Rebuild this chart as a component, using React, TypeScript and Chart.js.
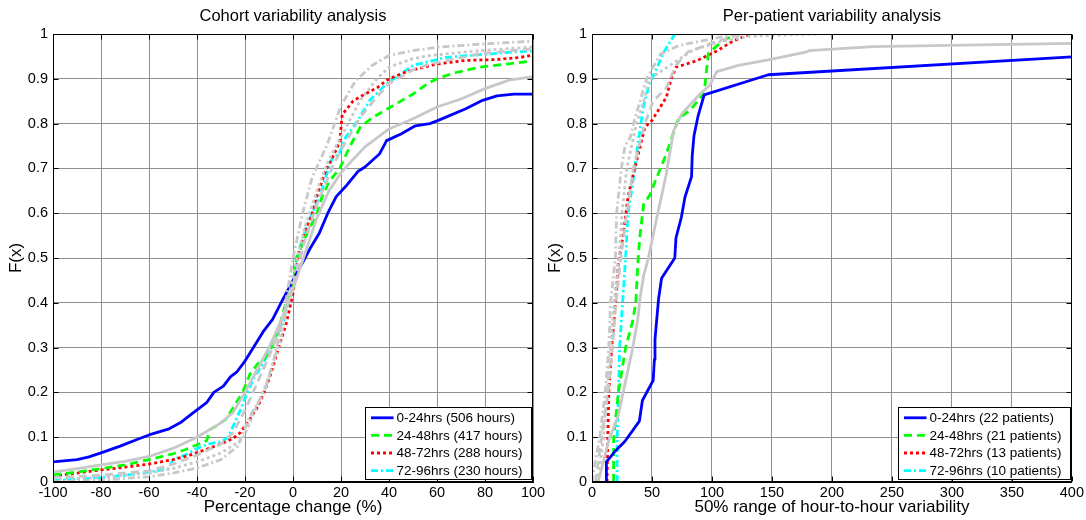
import React, { useEffect, useRef } from 'react';
import { Chart, registerables } from 'chart.js';
Chart.register(...registerables);

const FONT = "'Liberation Sans', Arial, Helvetica, sans-serif";

// ---------- Left panel: Cohort variability analysis (percentage change) ----------
const cohortXTicks = { min: -100, max: 100, step: 20 };

const cohort0_24X = [-100, -90, -85, -80, -72, -65, -60, -52, -47, -41.5, -36, -33, -29, -26, -23.5, -20, -16.5, -12.5, -8.5, -5, -2, 0, 3.5, 7, 11, 14.5, 18, 22, 27, 30, 36, 39, 45, 51, 57, 60, 64, 72, 79, 85, 92, 100];
const cohort0_24Y = [0.045, 0.05, 0.056, 0.065, 0.08, 0.095, 0.105, 0.118, 0.132, 0.155, 0.177, 0.2, 0.214, 0.235, 0.245, 0.27, 0.3, 0.335, 0.363, 0.4, 0.43, 0.45, 0.485, 0.52, 0.556, 0.6, 0.637, 0.66, 0.693, 0.703, 0.732, 0.762, 0.777, 0.795, 0.8, 0.806, 0.815, 0.833, 0.852, 0.862, 0.866, 0.866];

const cohort24_48X = [-100, -90, -80, -70, -60, -50, -45, -40, -36, -34.5, -32, -28, -25, -21, -18, -15, -12, -9, -6, -3, 0, 1.5, 5, 10, 12, 15, 19.5, 23.5, 28, 33, 40, 50, 56, 60, 67, 78, 89, 100];
const cohort24_48Y = [0.016, 0.022, 0.03, 0.038, 0.05, 0.063, 0.072, 0.083, 0.092, 0.118, 0.125, 0.14, 0.165, 0.2, 0.24, 0.262, 0.275, 0.3, 0.34, 0.4, 0.44, 0.5, 0.545, 0.6, 0.635, 0.67, 0.7, 0.747, 0.792, 0.813, 0.835, 0.866, 0.889, 0.9, 0.913, 0.926, 0.933, 0.94];

const cohort48_72X = [-100, -90, -80, -70, -60, -50, -43, -35, -30, -25, -22, -18, -15, -12, -9, -6, -3, 0, 2, 5, 8, 10, 14, 17, 19.5, 20.5, 25, 28, 35, 40, 47, 55, 60, 72, 85, 95, 100];
const cohort48_72Y = [0.013, 0.02, 0.027, 0.033, 0.04, 0.05, 0.06, 0.075, 0.085, 0.097, 0.11, 0.14, 0.165, 0.2, 0.245, 0.3, 0.35, 0.42, 0.5, 0.56, 0.6, 0.64, 0.7, 0.73, 0.76, 0.82, 0.85, 0.86, 0.88, 0.9, 0.915, 0.927, 0.933, 0.941, 0.943, 0.948, 0.953];

const cohort72_96X = [-100, -90, -80, -70, -60, -52, -50, -45, -40, -35, -30, -27, -22, -19, -16, -13, -10, -7, -4, -2, 0, 1.5, 5, 8, 12, 14.5, 16.5, 19, 22, 27, 32, 39, 42, 50, 64, 78, 92, 100];
const cohort72_96Y = [0.003, 0.006, 0.01, 0.015, 0.022, 0.03, 0.05, 0.06, 0.075, 0.085, 0.09, 0.1, 0.16, 0.2, 0.235, 0.26, 0.29, 0.32, 0.36, 0.4, 0.44, 0.5, 0.56, 0.6, 0.65, 0.695, 0.725, 0.73, 0.77, 0.807, 0.852, 0.889, 0.9, 0.93, 0.948, 0.954, 0.96, 0.962];

const cohortRefSolidX = [-100, -90, -80, -70, -60, -50, -40, -30, -25, -20, -15, -10, -5, 0, 5, 10, 15, 20, 25, 30, 40, 50, 60, 70, 80, 90, 100];
const cohortRefSolidY = [0.022, 0.03, 0.038, 0.046, 0.057, 0.075, 0.1, 0.132, 0.155, 0.2, 0.25, 0.3, 0.36, 0.43, 0.51, 0.59, 0.65, 0.69, 0.72, 0.748, 0.788, 0.811, 0.837, 0.855, 0.878, 0.897, 0.905];

const cohortRefDashX = [-100, -80, -60, -50, -40, -30, -25, -20, -15, -10, -5, 0, 5, 10, 17, 22, 28, 35, 40, 50, 57, 78, 100];
const cohortRefDashY = [0.01, 0.015, 0.025, 0.04, 0.06, 0.085, 0.11, 0.16, 0.22, 0.28, 0.35, 0.44, 0.54, 0.62, 0.71, 0.76, 0.814, 0.86, 0.889, 0.92, 0.933, 0.956, 0.967];

const cohortRefDotX = [-100, -80, -60, -50, -40, -30, -21, -15, -10, -5, 0, 5, 11, 15, 20, 28, 35, 40, 50, 57, 78, 100];
const cohortRefDotY = [0.005, 0.01, 0.02, 0.03, 0.045, 0.065, 0.095, 0.17, 0.235, 0.32, 0.46, 0.57, 0.666, 0.72, 0.77, 0.852, 0.9, 0.926, 0.945, 0.952, 0.963, 0.971];

const cohortRefDashDotX = [-100, -80, -60, -50, -40, -30, -23, -18, -12, -8, -4, 0, 4, 8, 14, 20, 26, 33, 40, 50, 61, 80, 100];
const cohortRefDashDotY = [0, 0.004, 0.012, 0.02, 0.031, 0.05, 0.08, 0.147, 0.2, 0.273, 0.37, 0.5, 0.6, 0.68, 0.75, 0.84, 0.895, 0.93, 0.952, 0.963, 0.971, 0.978, 0.984];

const cohortLabels = ['0-24hrs (506 hours)', '24-48hrs (417 hours)', '48-72hrs (288 hours)', '72-96hrs (230 hours)'];

// ---------- Right panel: Per-patient variability analysis ----------
const patientXTicks = { min: 0, max: 400, step: 50 };

const patient0_24X = [12, 12, 19, 27.5, 39.5, 42, 51, 52, 52.5, 54, 55.5, 58, 69, 70, 74.5, 77.5, 83, 83.5, 85, 88.5, 93.5, 147, 400];
const patient0_24Y = [0, 0.045, 0.068, 0.091, 0.136, 0.182, 0.227, 0.273, 0.318, 0.364, 0.409, 0.455, 0.5, 0.545, 0.591, 0.636, 0.682, 0.727, 0.773, 0.818, 0.864, 0.909, 0.949];

const patient24_48X = [18, 18, 20, 22, 28, 34, 36.5, 38.5, 40, 41.5, 43, 48, 54, 62, 72, 82, 91, 94, 97, 109, 120];
const patient24_48Y = [0, 0.095, 0.15, 0.2, 0.3, 0.36, 0.4, 0.5, 0.55, 0.585, 0.62, 0.64, 0.68, 0.733, 0.811, 0.83, 0.86, 0.882, 0.957, 0.985, 1.0];

const patient48_72X = [12.5, 13, 14, 16.5, 18, 19.5, 22, 26, 30, 34.5, 40, 44, 50, 62, 66, 70, 87, 104, 118, 132];
const patient48_72Y = [0, 0.077, 0.2, 0.3, 0.35, 0.4, 0.49, 0.55, 0.636, 0.688, 0.747, 0.792, 0.807, 0.859, 0.9, 0.926, 0.94, 0.962, 0.985, 1.0];

const patient72_96X = [21, 21, 22, 23, 25.5, 28, 30, 33, 38, 43, 48, 50, 60, 69];
const patient72_96Y = [0, 0.1, 0.2, 0.3, 0.4, 0.5, 0.6, 0.65, 0.75, 0.84, 0.89, 0.9, 0.96, 1.0];

const patientRefSolidX = [5, 10, 14, 18, 22, 26, 30, 34, 38, 40, 43, 47, 54, 62, 68, 75, 90, 98, 104, 122, 147, 179, 181, 234, 400];
const patientRefSolidY = [0, 0.05, 0.094, 0.12, 0.15, 0.2, 0.25, 0.3, 0.36, 0.41, 0.46, 0.5, 0.59, 0.688, 0.784, 0.822, 0.866, 0.885, 0.916, 0.93, 0.942, 0.96, 0.963, 0.972, 0.979];

const patientRefDashX = [3, 8, 13.5, 17, 20, 24, 29, 34.5, 44, 51, 62, 70, 80, 100, 125];
const patientRefDashY = [0, 0.1, 0.2, 0.3, 0.4, 0.5, 0.6, 0.7, 0.8, 0.85, 0.88, 0.93, 0.96, 0.98, 1.0];

const patientRefDotX = [5, 9.5, 12.5, 15.5, 18.5, 22.5, 25, 29, 37, 43, 48, 65, 84, 107, 131, 187];
const patientRefDotY = [0, 0.1, 0.2, 0.3, 0.4, 0.5, 0.6, 0.7, 0.8, 0.85, 0.9, 0.93, 0.964, 0.983, 0.995, 1.0];

const patientRefDashDotX = [0, 3, 6.5, 11, 14, 15.5, 19.5, 20.5, 24.5, 27.5, 32, 34.5, 40, 45.5, 57, 73, 96, 120];
const patientRefDashDotY = [0, 0.05, 0.1, 0.2, 0.3, 0.4, 0.5, 0.6, 0.7, 0.75, 0.77, 0.8, 0.85, 0.9, 0.955, 0.975, 0.987, 1.0];

const patientLabels = ['0-24hrs (22 patients)', '24-48hrs (21 patients)', '48-72hrs (13 patients)', '72-96hrs (10 patients)'];

// ---------- styles ----------
const DASH = {
  solid: [] as number[],
  dashed: [8, 5],
  dotted: [3, 3],
  dashDot: [7, 3, 2, 3],
};
const COLORS = ['#0000ff', '#00ff00', '#ff0000', '#00ffff'];
const GRAY = '#c8c8c8';
const GRID = '#8f8f8f';
const LINE_W = 2.8;

const zip = (xs: number[], ys: number[]) => xs.map((x, i) => ({ x, y: ys[i] }));

function makeDatasets(colored: [number[], number[]][], gray: [number[], number[]][], labels: string[]) {
  const styles = [DASH.solid, DASH.dashed, DASH.dotted, DASH.dashDot];
  const ds: any[] = [];
  const common = { borderWidth: LINE_W, borderCapStyle: 'butt', borderJoinStyle: 'round', pointRadius: 0, fill: false, tension: 0 };
  colored.forEach(([xs, ys], i) => {
    ds.push({ ...common, label: labels[i], data: zip(xs, ys), borderColor: COLORS[i], borderDash: styles[i], order: 1 });
  });
  gray.forEach(([xs, ys], i) => {
    ds.push({ ...common, label: '', data: zip(xs, ys), borderColor: GRAY, borderDash: styles[i], order: 0 });
  });
  return ds;
}

const framePlugin = {
  id: 'matlabFrame',
  afterDatasetsDraw(chart: any) {
    const { ctx, chartArea: a, scales } = chart;
    const l = Math.round(a.left) + 0.5;
    const r = Math.round(a.right) - 0.5;
    const t = Math.round(a.top) + 0.5;
    const b = Math.round(a.bottom) - 0.5;
    ctx.save();
    ctx.setLineDash([]);
    ctx.strokeStyle = '#000';
    ctx.lineWidth = 1;
    ctx.strokeRect(l, t, r - l, b - t);
    const tl = 5;
    ctx.beginPath();
    scales.x.ticks.forEach((tk: any) => {
      const px = Math.round(scales.x.getPixelForValue(tk.value)) + 0.5;
      ctx.moveTo(px, b); ctx.lineTo(px, b - tl);
      ctx.moveTo(px, t); ctx.lineTo(px, t + tl);
    });
    scales.y.ticks.forEach((tk: any) => {
      const py = Math.round(scales.y.getPixelForValue(tk.value)) + 0.5;
      ctx.moveTo(l, py); ctx.lineTo(l + tl, py);
      ctx.moveTo(r, py); ctx.lineTo(r - tl, py);
    });
    ctx.stroke();
    ctx.restore();
  },
};

const legendPlugin = {
  id: 'matlabLegend',
  afterDraw(chart: any) {
    const items = chart.data.datasets.filter((d: any) => d.label);
    const { ctx, chartArea: a } = chart;
    ctx.save();
    ctx.font = `13.5px ${FONT}`;
    const textW = Math.max(...items.map((d: any) => ctx.measureText(d.label).width));
    const padL = 5.5, sample = 22.5, gap = 3, padR = 9, rowH = 17.6, padT = 10.3, padB = 9;
    const w = padL + sample + gap + textW + padR;
    const h = padT + rowH * (items.length - 1) + padB;
    const right = Math.round(a.right - 2) + 0.5;
    const bottom = Math.round(a.bottom - 3) + 0.5;
    const left = Math.round(right - w) + 0.5;
    const top = Math.round(bottom - h) + 0.5;
    ctx.fillStyle = '#fff';
    ctx.fillRect(left, top, right - left, bottom - top);
    ctx.strokeStyle = '#000';
    ctx.lineWidth = 1;
    ctx.setLineDash([]);
    ctx.strokeRect(left, top, right - left, bottom - top);
    items.forEach((d: any, i: number) => {
      const cy = top + padT + i * rowH;
      ctx.save();
      ctx.setLineDash(d.borderDash || []);
      ctx.lineCap = 'butt';
      ctx.lineWidth = d.borderWidth;
      ctx.strokeStyle = d.borderColor;
      ctx.beginPath();
      ctx.moveTo(left + padL, cy);
      ctx.lineTo(left + padL + sample, cy);
      ctx.stroke();
      ctx.restore();
      ctx.fillStyle = '#000';
      ctx.textBaseline = 'middle';
      ctx.textAlign = 'left';
      ctx.fillText(d.label, left + padL + sample + gap, cy + 0.5);
    });
    ctx.restore();
  },
};

const fmtY = (v: number | string) => String(Number(Number(v).toFixed(2)));

function makeConfig(title: string, xTitle: string, xr: { min: number; max: number; step: number }, datasets: any[], padRight: number): any {
  return {
    type: 'line',
    data: { datasets },
    plugins: [framePlugin, legendPlugin],
    options: {
      responsive: false,
      animation: false,
      devicePixelRatio: 1,
      events: [],
      layout: { padding: { left: 0, right: padRight, top: 0, bottom: 0 } },
      plugins: {
        legend: { display: false },
        tooltip: { enabled: false },
        title: {
          display: true,
          text: title,
          fullSize: false,
          color: '#000',
          font: { family: FONT, size: 16.5, weight: 'normal', lineHeight: 1.2 },
          padding: { top: 6.1, bottom: 8.1 },
        },
      },
      scales: {
        x: {
          type: 'linear',
          min: xr.min,
          max: xr.max,
          ticks: { stepSize: xr.step, autoSkip: false, maxRotation: 0, padding: 2, color: '#000', font: { family: FONT, size: 14.5 } },
          grid: { color: GRID, lineWidth: 1, drawTicks: false },
          border: { display: true, color: '#000', width: 1 },
          title: { display: true, text: xTitle, color: '#000', font: { family: FONT, size: 17, lineHeight: 1.2 }, padding: { top: 0, bottom: 2 } },
          afterFit: (s: any) => { s.height = 38; },
        },
        y: {
          type: 'linear',
          min: 0,
          max: 1,
          ticks: { stepSize: 0.1, autoSkip: false, padding: 5, color: '#000', font: { family: FONT, size: 14.5 }, callback: fmtY },
          grid: { color: GRID, lineWidth: 1, drawTicks: false },
          border: { display: true, color: '#000', width: 1 },
          title: { display: true, text: 'F(x)', color: '#000', font: { family: FONT, size: 17, lineHeight: 1.2 }, padding: { top: 6, bottom: 0 } },
          afterFit: (s: any) => { s.width = 53; },
        },
      },
    },
  };
}

export default function App() {
  const leftRef = useRef<HTMLCanvasElement>(null);
  const rightRef = useRef<HTMLCanvasElement>(null);

  useEffect(() => {
    const leftDs = makeDatasets(
      [[cohort0_24X, cohort0_24Y], [cohort24_48X, cohort24_48Y], [cohort48_72X, cohort48_72Y], [cohort72_96X, cohort72_96Y]],
      [[cohortRefSolidX, cohortRefSolidY], [cohortRefDashX, cohortRefDashY], [cohortRefDotX, cohortRefDotY], [cohortRefDashDotX, cohortRefDashDotY]],
      cohortLabels,
    );
    const rightDs = makeDatasets(
      [[patient0_24X, patient0_24Y], [patient24_48X, patient24_48Y], [patient48_72X, patient48_72Y], [patient72_96X, patient72_96Y]],
      [[patientRefSolidX, patientRefSolidY], [patientRefDashX, patientRefDashY], [patientRefDotX, patientRefDotY], [patientRefDashDotX, patientRefDashDotY]],
      patientLabels,
    );
    const c1 = new Chart(leftRef.current as HTMLCanvasElement, makeConfig('Cohort variability analysis', 'Percentage change (%)', cohortXTicks, leftDs, 22));
    const c2 = new Chart(rightRef.current as HTMLCanvasElement, makeConfig('Per-patient variability analysis', '50% range of hour-to-hour variability', patientXTicks, rightDs, 14));
    return () => { c1.destroy(); c2.destroy(); };
  }, []);

  return (
    <div style={{ position: 'fixed', left: 0, top: 0, width: 1086, height: 520, overflow: 'hidden', background: '#fff' }}>
      <canvas ref={leftRef} width={555} height={520} style={{ position: 'absolute', left: 0, top: 0, width: 555, height: 520 }} />
      <canvas ref={rightRef} width={547} height={520} style={{ position: 'absolute', left: 539, top: 0, width: 547, height: 520 }} />
    </div>
  );
}
